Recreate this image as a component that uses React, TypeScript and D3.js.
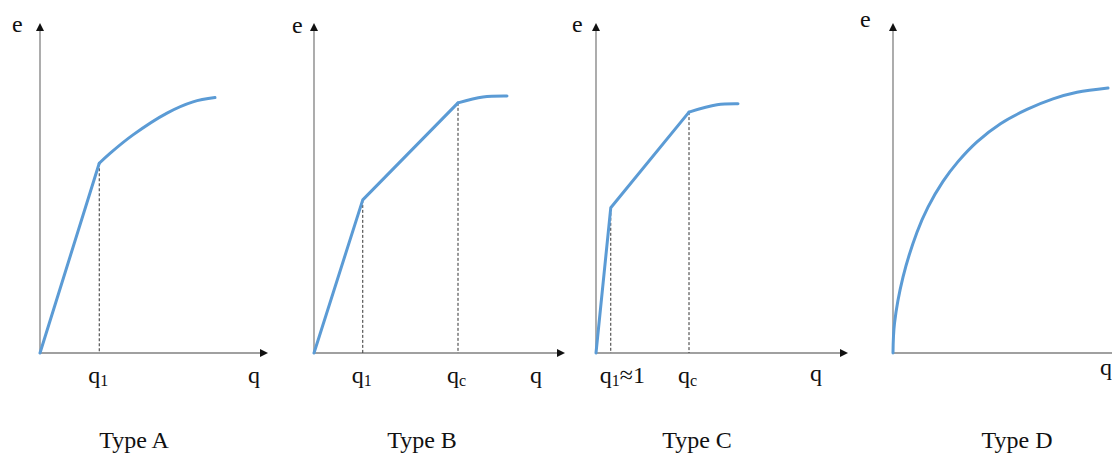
import React from 'react';
import * as d3 from 'd3';

// ---- Data (q, e in shared chart units) ----
const panelNames = ['Type A', 'Type B', 'Type C', 'Type D'];
const axisMaxQ = [9.12, 10.04, 10.08, 10.5];
const eMax = 10;

const linearA: [number, number][] = [[0, 0], [2.37, 5.75]];
const smoothA: [number, number][] = [[2.37, 5.75], [2.8, 6.05], [3.72, 6.61], [5.08, 7.27], [6.12, 7.61], [7.0, 7.74]];
const linearB: [number, number][] = [[0, 0], [1.95, 4.64], [5.76, 7.58]];
const smoothB: [number, number][] = [[5.76, 7.58], [6.76, 7.76], [7.72, 7.79]];
const linearC: [number, number][] = [[0, 0], [0.59, 4.4], [3.72, 7.3]];
const smoothC: [number, number][] = [[3.72, 7.3], [4.84, 7.52], [5.68, 7.55]];
const linearD: [number, number][] = [];
const smoothD: [number, number][] = [
  [0, 0], [0.06, 0.9], [0.4, 2.3], [0.96, 3.66], [1.4, 4.42], [2.0, 5.2], [2.6, 5.8],
  [3.36, 6.4], [4.3, 6.95], [5.36, 7.38], [6.4, 7.7], [7.36, 7.9], [8.6, 8.03],
];

const markersA = [{ q: 2.37, e: 5.75, main: 'q', sub: '1', tail: '' }];
const markersB = [
  { q: 1.95, e: 4.64, main: 'q', sub: '1', tail: '' },
  { q: 5.76, e: 7.58, main: 'q', sub: 'c', tail: '' },
];
const markersC = [
  { q: 0.59, e: 4.4, main: 'q', sub: '1', tail: '≈1' },
  { q: 3.72, e: 7.3, main: 'q', sub: 'c', tail: '' },
];
const markersD: { q: number; e: number; main: string; sub: string; tail: string }[] = [];

const linears = [linearA, linearB, linearC, linearD];
const smooths = [smoothA, smoothB, smoothC, smoothD];
const markers = [markersA, markersB, markersC, markersD];

// ---- Layout ----
const W = 1112, H = 453;
const originX = [40, 314, 596, 893];
const originY = 353;
const topY = 23;
const qUnitPx = 25;
const eLabelPos = [[12, 32], [292, 33], [572, 32], [860, 27]];
const qLabelPos = [[248, 383], [530, 383], [810, 381], [1100, 375]];
const typeLabelX = [134, 422, 697, 1017];
const typeLabelY = 448;

const CURVE = '#5B9BD5';
const AXIS = '#808080';
const FONT = '"Liberation Serif", "Times New Roman", serif';

function Panel({ i }: { i: number }) {
  const ox = originX[i];
  const x = d3.scaleLinear().domain([0, axisMaxQ[i]]).range([ox, ox + axisMaxQ[i] * qUnitPx]);
  const y = d3.scaleLinear().domain([0, eMax]).range([originY, topY]);
  const lineLin = d3.line<[number, number]>().x(d => x(d[0])).y(d => y(d[1]));
  const lineSm = d3.line<[number, number]>().x(d => x(d[0])).y(d => y(d[1])).curve(d3.curveCatmullRom.alpha(0.5));
  const x0 = x(0), y0 = y(0);
  const xEnd = x(axisMaxQ[i]);
  const yEnd = y(eMax);
  const aL = 8, aW = 4;
  return (
    <g>
      {/* axes */}
      <line x1={x0} y1={y0} x2={x0} y2={yEnd + aL - 1} stroke={AXIS} strokeWidth={1.3} />
      <polygon points={`${x0},${yEnd} ${x0 - aW},${yEnd + aL} ${x0 + aW},${yEnd + aL}`} fill="#111" />
      <line x1={x0} y1={y0} x2={xEnd - aL + 1} y2={y0} stroke={AXIS} strokeWidth={1.3} />
      <polygon points={`${xEnd},${y0} ${xEnd - aL},${y0 - aW} ${xEnd - aL},${y0 + aW}`} fill="#111" />
      {/* dashed drop lines */}
      {markers[i].map((m, k) => (
        <line key={k} x1={x(m.q)} x2={x(m.q)} y1={y(m.e)} y2={y0} stroke="#333" strokeWidth={1} strokeDasharray="3,2" />
      ))}
      {/* curve */}
      {linears[i].length > 0 && (
        <path d={lineLin(linears[i]) || ''} fill="none" stroke={CURVE} strokeWidth={3} strokeLinejoin="round" strokeLinecap="round" />
      )}
      <path d={lineSm(smooths[i]) || ''} fill="none" stroke={CURVE} strokeWidth={3} strokeLinejoin="round" strokeLinecap="round" />
      {/* tick labels */}
      {markers[i].map((m, k) => (
        <text key={k} x={x(m.q) - 11} y={383} fontFamily={FONT} fontSize={24} fill="#111">
          {m.main}
          <tspan fontSize={16} dy={3}>{m.sub}</tspan>
          {m.tail && <tspan fontSize={24} dy={-3}>{m.tail}</tspan>}
        </text>
      ))}
      {/* axis labels */}
      <text x={eLabelPos[i][0]} y={eLabelPos[i][1]} fontFamily={FONT} fontSize={24} fill="#111">e</text>
      <text x={qLabelPos[i][0]} y={qLabelPos[i][1]} fontFamily={FONT} fontSize={24} fill="#111">q</text>
      <text x={typeLabelX[i]} y={typeLabelY} textAnchor="middle" fontFamily={FONT} fontSize={24} fill="#111">{panelNames[i]}</text>
    </g>
  );
}

export default function App() {
  return (
    <svg width={W} height={H} viewBox={`0 0 ${W} ${H}`} style={{ position: 'absolute', left: 0, top: 0, background: '#fff' }}>
      <rect x={0} y={0} width={W} height={H} fill="#fff" />
      {panelNames.map((_, i) => <Panel key={i} i={i} />)}
    </svg>
  );
}
